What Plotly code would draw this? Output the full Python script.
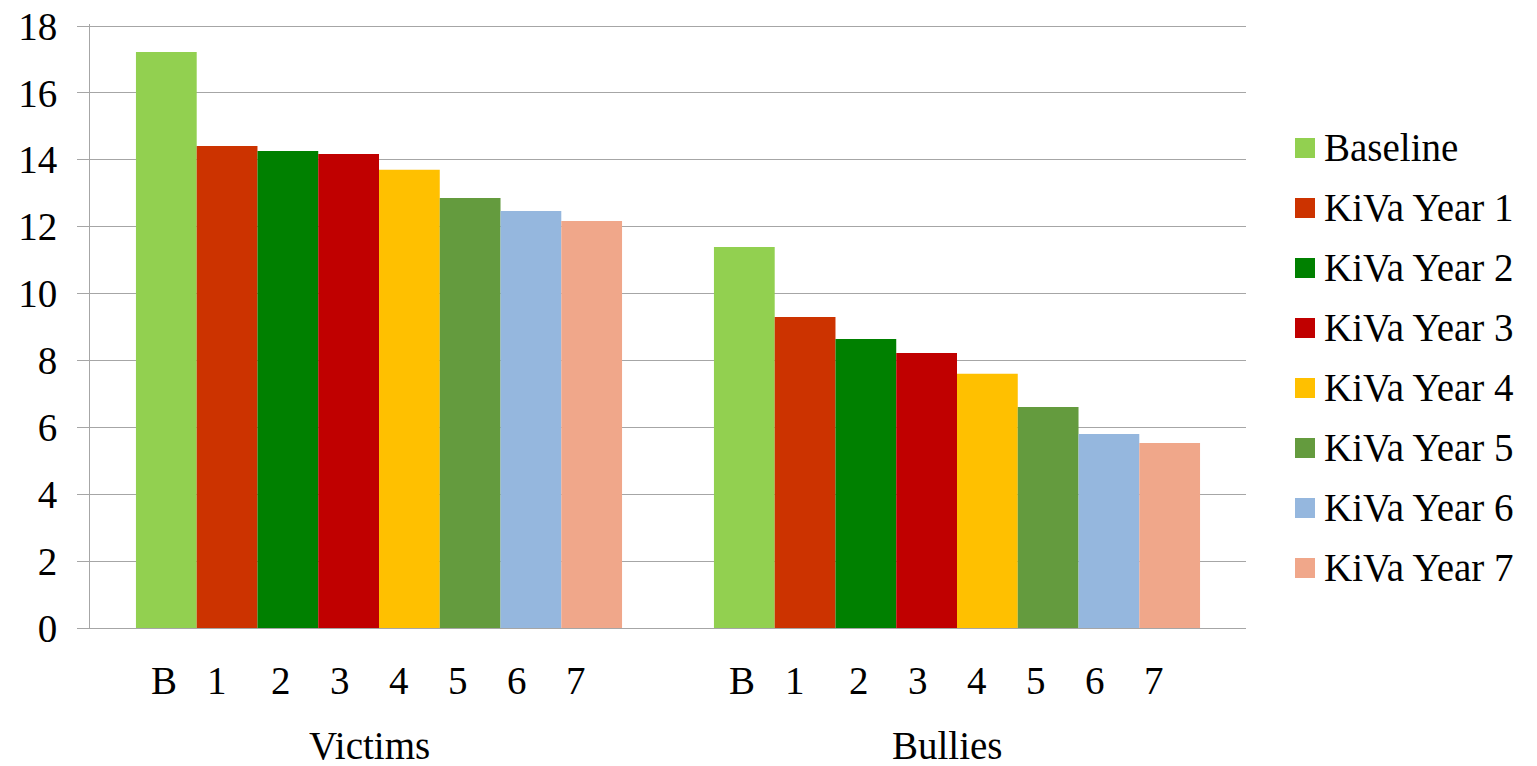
import plotly.graph_objects as go

groups = ["Victims", "Bullies"]
series = ["Baseline", "KiVa Year 1", "KiVa Year 2", "KiVa Year 3",
          "KiVa Year 4", "KiVa Year 5", "KiVa Year 6", "KiVa Year 7"]
short_labels = ["B", "1", "2", "3", "4", "5", "6", "7"]
victims = [17.22, 14.41, 14.26, 14.17, 13.70, 12.86, 12.47, 12.17]
bullies = [11.39, 9.30, 8.64, 8.22, 7.60, 6.61, 5.80, 5.53]
colors = ["#92D050", "#CC3300", "#008000", "#C00000",
          "#FFC000", "#649B3E", "#95B7DE", "#F0A78A"]
y_ticks = [0, 2, 4, 6, 8, 10, 12, 14, 16, 18]

FONT = "Liberation Serif"
FS = 39
GRID = "#A6A6A6"

Y_TOP = 18.06            # small headroom so the 18 gridline is drawn
PLOT_L, PLOT_W = 90, 1156  # page px
PLOT_B = 628
PX_PER_UNIT = 602 / 18.0
PLOT_H = round(PX_PER_UNIT * Y_TOP)
PLOT_T = PLOT_B - PLOT_H
BODY = 8  # default body margin of the html page
unit = PLOT_W / 2.0  # px per category


def px_x(p):
    return (p - PLOT_L) / PLOT_W


def px_y(p):
    return (PLOT_B - p) / PLOT_H


fig = go.Figure()
for i, name in enumerate(series):
    fig.add_trace(go.Bar(
        x=groups, y=[victims[i], bullies[i]], name=name,
        marker=dict(color=colors[i], line=dict(width=0)),
        showlegend=False,
    ))

annotations = []
shapes = []
label_shift = -9.5 / unit
step = 59.0 / unit
for g, grp in enumerate(groups):
    c = g + label_shift
    for k, lab in enumerate(short_labels):
        dx = (k - 3.5) * step
        if k == 0:
            dx += 0.5 / unit
        elif k == 1:
            dx -= 5 / unit
        annotations.append(dict(
            x=c + dx, y=px_y(680), xref="x", yref="paper",
            text=lab, showarrow=False, font=dict(family=FONT, size=FS, color="black"),
            xanchor="center", yanchor="middle"))
    annotations.append(dict(
        x=c, y=px_y(745), xref="x", yref="paper",
        text=grp, showarrow=False, font=dict(family=FONT, size=FS, color="black"),
        xanchor="center", yanchor="middle"))

# legend (square swatch + label), laid out in page pixels
LEG_X, LEG_Y0, LEG_DY, SW = 1295, 148, 60, 20
for i, name in enumerate(series):
    cy = LEG_Y0 + i * LEG_DY
    shapes.append(dict(type="rect", xref="paper", yref="paper",
                       x0=px_x(LEG_X), x1=px_x(LEG_X + SW),
                       y0=px_y(cy + SW / 2), y1=px_y(cy - SW / 2),
                       fillcolor=colors[i], line=dict(width=0)))
    annotations.append(dict(x=px_x(LEG_X + SW + 7), y=px_y(cy - 1), xref="paper", yref="paper",
                            text=name, showarrow=False, xanchor="left", yanchor="middle",
                            font=dict(family=FONT, size=FS, color="black")))

fig.update_layout(
    width=1537, height=766,
    margin=dict(l=PLOT_L - BODY, r=1537 - (PLOT_L - BODY) - PLOT_W,
                t=PLOT_T - BODY, b=766 - (PLOT_T - BODY) - PLOT_H, autoexpand=False),
    paper_bgcolor="white", plot_bgcolor="white",
    barmode="group", bargap=0.159, bargroupgap=0,
    font=dict(family=FONT, size=FS, color="black"),
    showlegend=False,
    annotations=annotations,
    shapes=shapes,
)
fig.update_xaxes(showticklabels=False, showgrid=False, showline=True,
                 linecolor=GRID, linewidth=1, ticks="", range=[-0.5, 1.5],
                 automargin=False)
fig.update_yaxes(range=[0, Y_TOP], tickvals=y_ticks, showgrid=True, gridcolor=GRID,
                 gridwidth=1, showline=True, linecolor=GRID, linewidth=1,
                 ticks="outside", ticklen=12, tickcolor=GRID, tickwidth=1,
                 ticklabelstandoff=12, ticklabeloverflow="allow",
                 zeroline=False, automargin=False,
                 tickfont=dict(family=FONT, size=FS, color="black"))

fig.write_html("out.html")
